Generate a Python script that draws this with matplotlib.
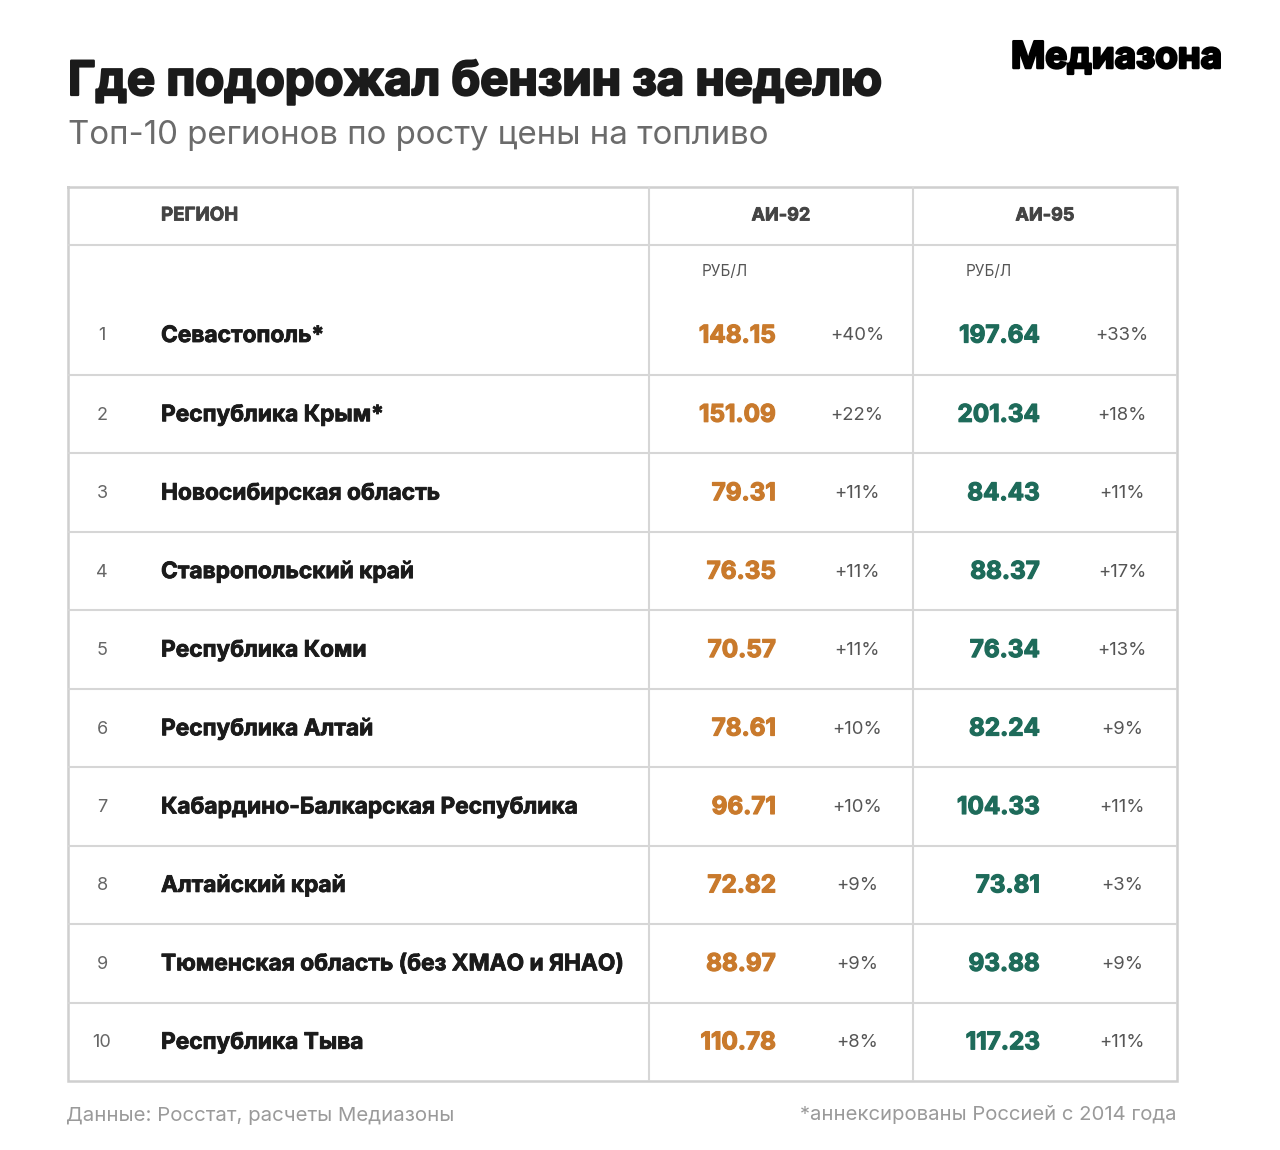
import matplotlib
matplotlib.use("Agg")
import matplotlib.pyplot as plt
import matplotlib.patheffects as pe

plt.rcParams['font.family'] = ['Inter', 'DejaVu Sans']

# data
ranks = [1, 2, 3, 4, 5, 6, 7, 8, 9, 10]
regions = ["Севастополь*", "Республика Крым*", "Новосибирская область",
           "Ставропольский край", "Республика Коми", "Республика Алтай",
           "Кабардино-Балкарская Республика", "Алтайский край",
           "Тюменская область (без ХМАО и ЯНАО)", "Республика Тыва"]
ai92_price = [148.15, 151.09, 79.31, 76.35, 70.57, 78.61, 96.71, 72.82, 88.97, 110.78]
ai92_pct = [40, 22, 11, 11, 11, 10, 10, 9, 9, 8]
ai95_price = [197.64, 201.34, 84.43, 88.37, 76.34, 82.24, 104.33, 73.81, 93.88, 117.23]
ai95_pct = [33, 18, 11, 17, 13, 9, 11, 3, 9, 11]
columns = ["РЕГИОН", "АИ-92", "АИ-95"]
unit = "РУБ/Л"

title = "Где подорожал бензин за неделю"
subtitle = "Топ-10 регионов по росту цены на топливо"
source = "Данные: Росстат, расчеты Медиазоны"
note = "*аннексированы Россией с 2014 года"
logo = "Медиазона"

ORANGE = "#c97a2c"
GREEN = "#1e6b5a"
DARK = "#1b1b1b"
LINE = "#d6d6d6"


def heavy(color, w):
    # fake a heavier weight than Inter Bold
    return [pe.withStroke(linewidth=w, foreground=color)]


fig = plt.figure(figsize=(12.8, 11.5), dpi=100)
ax = fig.add_axes([0, 0, 1, 1])
ax.set_xlim(0, 1280)
ax.set_ylim(1150, 0)
ax.axis("off")

# table geometry (pixels)
left, right, top, bottom = 68, 1177, 187, 1081
col1, col2 = 649, 913
head_bot = 245
first_bot = 375
row_h = (bottom - first_bot) / 9

# grid
ax.plot([left, right, right, left, left], [top, top, bottom, bottom, top],
        color="#cfcfcf", lw=1.8, solid_joinstyle="miter")
ax.vlines([col1, col2], top, bottom, color=LINE, lw=1.5)
row_lines = [head_bot, first_bot] + [first_bot + row_h * i for i in range(1, 9)]
ax.hlines(row_lines, left, right, color=LINE, lw=1.5)

# header
ax.text(161, 216, columns[0], fontsize=13.5, fontweight="bold", color="#444444",
        ha="left", va="center", path_effects=heavy("#444444", 0.6))
ax.text(781, 216, columns[1], fontsize=13, fontweight="bold", color="#444444",
        ha="center", va="center", path_effects=heavy("#444444", 0.6))
ax.text(1045, 216, columns[2], fontsize=13, fontweight="bold", color="#444444",
        ha="center", va="center", path_effects=heavy("#444444", 0.6))
ax.text(702, 272, unit, fontsize=11, color="#555555", ha="left", va="center")
ax.text(966, 272, unit, fontsize=11, color="#555555", ha="left", va="center")

# rows
centers = [336] + [first_bot + 1 + row_h * (i + 0.5) for i in range(9)]
for i, y in enumerate(centers):
    ax.text(102, y, str(ranks[i]), fontsize=13, color="#666666", ha="center", va="center")
    ax.text(161, y, regions[i], fontsize=16.35, fontweight="bold", color=DARK,
            ha="left", va="center", path_effects=heavy(DARK, 0.6))
    ax.text(776, y, f"{ai92_price[i]:.2f}", fontsize=17.5, fontweight="bold",
            color=ORANGE, ha="right", va="center", path_effects=heavy(ORANGE, 0.9))
    ax.text(857, y, f"+{ai92_pct[i]}%", fontsize=13.3, color="#555555",
            ha="center", va="center")
    ax.text(1040, y, f"{ai95_price[i]:.2f}", fontsize=17.5, fontweight="bold",
            color=GREEN, ha="right", va="center", path_effects=heavy(GREEN, 0.9))
    ax.text(1122, y, f"+{ai95_pct[i]}%", fontsize=13.3, color="#555555",
            ha="center", va="center")

# titles
ax.text(68, 95, title, fontsize=34, fontweight="bold", color=DARK, ha="left",
        va="baseline", path_effects=heavy(DARK, 1.6))
ax.text(68, 144, subtitle, fontsize=23.8, color="#6b6b6b",
        ha="left", va="baseline")
ax.text(1222, 68, logo, fontsize=26.5, fontweight="bold", color="black",
        ha="right", va="baseline", path_effects=heavy("black", 1.8))

# footer
ax.text(66, 1116, source, fontsize=14.7, color="#9a9a9a", ha="left", va="center")
ax.text(1177, 1115, note, fontsize=14.6, color="#9a9a9a", ha="right", va="center")

fig.savefig("out.png", dpi=100, facecolor="white")
